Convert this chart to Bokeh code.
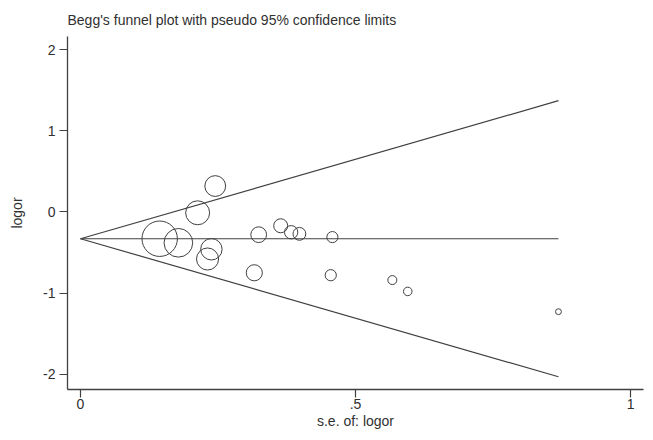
from bokeh.plotting import figure
from bokeh.models import FixedTicker, Range1d
from bokeh.embed import file_html
from bokeh.resources import INLINE

# Data
se = [0.245, 0.213, 0.144, 0.178, 0.238, 0.231, 0.324, 0.316, 0.364, 0.383,
      0.398, 0.458, 0.455, 0.567, 0.595, 0.869]
logor = [0.32, -0.01, -0.33, -0.38, -0.46, -0.58, -0.28, -0.75, -0.17, -0.25,
         -0.27, -0.31, -0.78, -0.84, -0.98, -1.23]
pooled = -0.33
x_ticks = [0, 0.5, 1]
x_tick_labels = ["0", ".5", "1"]
y_ticks = [-2, -1, 0, 1, 2]
y_tick_labels = ["-2", "-1", "0", "1", "2"]

FONT = "Liberation Sans"
TXT = "#303030"
LINE = "#404040"

max_se = max(se)
sizes = [5.1 / s for s in se]

p = figure(width=645, height=432, output_backend="svg", toolbar_location=None,
           x_range=Range1d(-0.0236, 1.0236), y_range=Range1d(-2.19, 2.165),
           min_border_left=67, min_border_right=2, min_border_top=0,
           min_border_bottom=43)
p.outline_line_color = None
p.xgrid.visible = False
p.ygrid.visible = False
p.background_fill_color = "white"

p.title.text = "Begg's funnel plot with pseudo 95% confidence limits"
p.title.text_font = FONT
p.title.text_font_size = "14px"
p.title.text_font_style = "normal"
p.title.text_color = TXT
p.title.align = "left"
p.title.standoff = 17.5

# funnel lines
p.line([0, max_se], [pooled, pooled + 1.96 * max_se], line_color=LINE, line_width=1.2)
p.line([0, max_se], [pooled, pooled - 1.96 * max_se], line_color=LINE, line_width=1.2)
p.line([0, max_se], [pooled, pooled], line_color=LINE, line_width=1.2)

p.scatter(se, logor, size=sizes, marker="circle", fill_color=None,
          line_color="#404040", line_width=1.0)

for ax in (p.xaxis[0], p.yaxis[0]):
    ax.axis_line_color = LINE
    ax.axis_line_width = 1.3
    ax.major_tick_line_color = LINE
    ax.major_tick_line_width = 1.2
    ax.major_tick_out = 8
    ax.major_tick_in = 0
    ax.minor_tick_line_color = None
    ax.major_label_text_font = FONT
    ax.major_label_text_font_size = "14px"
    ax.major_label_text_color = TXT
    ax.axis_label_text_font = FONT
    ax.axis_label_text_font_size = "14px"
    ax.axis_label_text_font_style = "normal"
    ax.axis_label_text_color = TXT

p.xaxis[0].ticker = FixedTicker(ticks=x_ticks)
p.xaxis[0].major_label_overrides = dict(zip(x_ticks, x_tick_labels))
p.xaxis[0].major_label_standoff = 1
p.xaxis[0].axis_label = "s.e. of: logor"
p.xaxis[0].axis_label_standoff = 1

p.yaxis[0].ticker = FixedTicker(ticks=y_ticks)
p.yaxis[0].major_label_overrides = dict(zip(y_ticks, y_tick_labels))
p.yaxis[0].major_label_orientation = "horizontal"
p.yaxis[0].major_label_standoff = 4
p.yaxis[0].axis_label = "logor"
p.yaxis[0].axis_label_standoff = 15

open("out.html", "w").write(file_html(p, INLINE))
